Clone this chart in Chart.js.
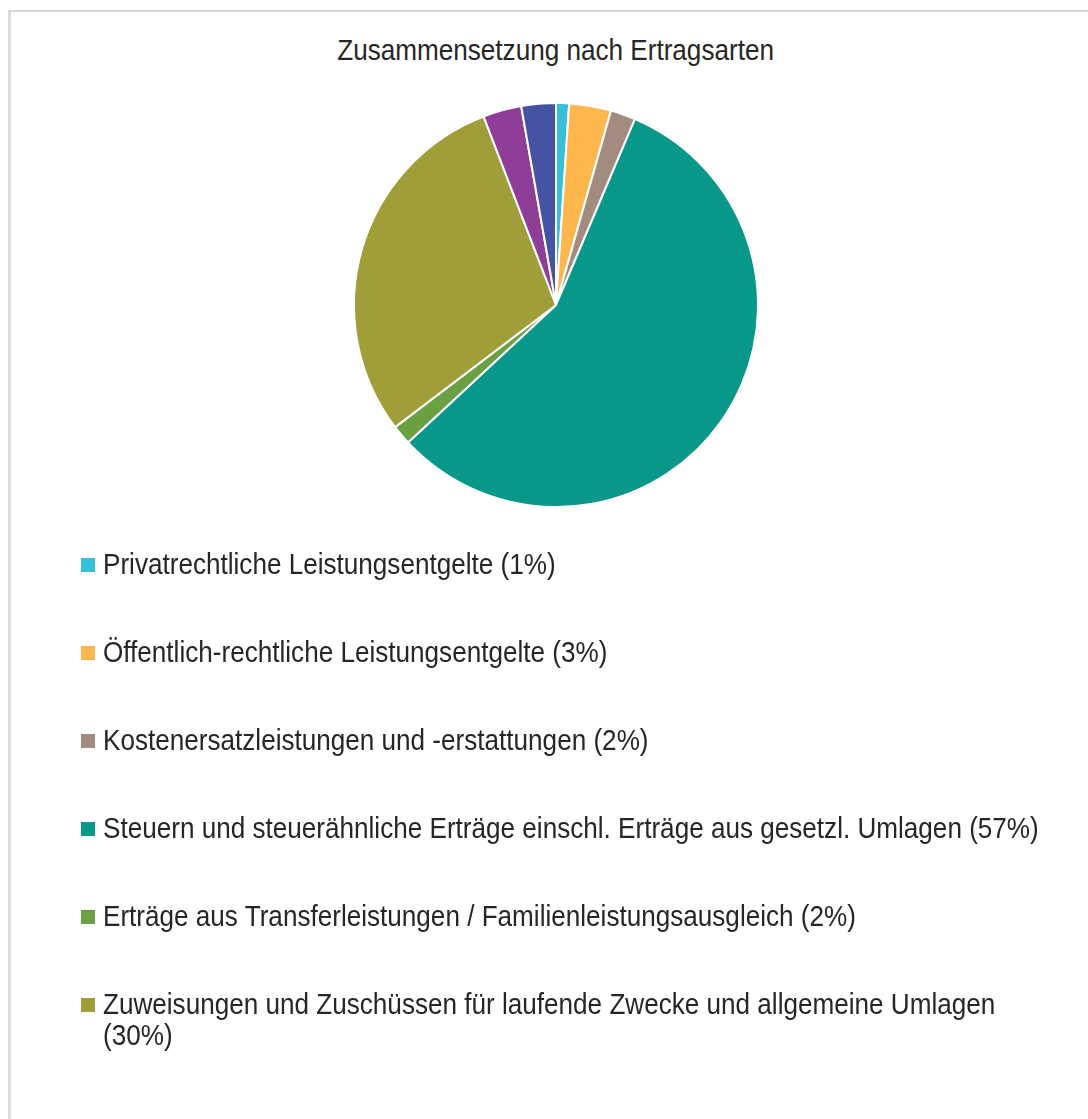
<!DOCTYPE html>
<html lang="de">
<head>
<meta charset="utf-8">
<script src="https://cdn.jsdelivr.net/npm/chart.js@4/dist/chart.umd.min.js"></script>
<style>
  html, body { margin: 0; padding: 0; background: #fff; width: 1088px; height: 1119px; overflow: hidden; }
  body { position: relative; font-family: "Liberation Sans", Arial, sans-serif; color: #262626; }
  #frame { position: absolute; left: 8px; top: 10px; width: 1200px; height: 1200px;
           border-top: 2px solid #d9d9d9; border-left: 3px solid #dcdcdc; box-sizing: border-box; }
  #chartWrap { position: absolute; left: 0; top: 0; width: 1112px; height: 610px; }
  #title { position: absolute; left: 0; top: 35px; width: 1112px; text-align: center;
           font-size: 29px; line-height: 31px; white-space: nowrap; }
  #title span { display: inline-block; transform: scaleX(0.9); transform-origin: center top; }
  #legendClip { position: absolute; left: 81px; top: 549px; width: 1000px; height: 545px; overflow: hidden; }
  #legend { margin: 0; padding: 0; list-style: none; }
  #legend li { position: relative; margin: 0 0 57px 0; padding: 0; }
  #legend .box { position: absolute; left: 0; top: 9px; width: 14px; height: 14px; }
  #legend .txt { display: block; margin-left: 22px; width: 1062px; font-size: 29px; line-height: 31px;
                 transform: scaleX(0.9); transform-origin: left top; }
</style>
</head>
<body>
<div id="frame"></div>
<div id="title"><span></span></div>
<div id="chartWrap"><canvas id="c"></canvas></div>
<div id="legendClip"><ul id="legend"></ul></div>
<script>
const chartTitle = "Zusammensetzung nach Ertragsarten";
const categories = [
  "Privatrechtliche Leistungsentgelte (1%)",
  "Öffentlich-rechtliche Leistungsentgelte (3%)",
  "Kostenersatzleistungen und -erstattungen (2%)",
  "Steuern und steuerähnliche Erträge einschl. Erträge aus gesetzl. Umlagen (57%)",
  "Erträge aus Transferleistungen / Familienleistungsausgleich (2%)",
  "Zuweisungen und Zuschüssen für laufende Zwecke und allgemeine Umlagen (30%)",
  "Sonstige ordentliche Erträge (3%)",
  "Finanzerträge (3%)"
];
const shares = [1.04, 3.35, 2.0, 56.7, 1.58, 29.5, 3.08, 2.76];
const colors = ["#36C1D8", "#FDB74D", "#A38B80", "#08988A", "#6A9F42", "#A09E38", "#8E3E96", "#4653A2"];

document.querySelector('#title span').textContent = chartTitle;

const htmlLegend = {
  id: 'htmlLegend',
  afterUpdate(chart) {
    const ul = document.getElementById('legend');
    while (ul.firstChild) ul.removeChild(ul.firstChild);
    const items = chart.options.plugins.legend.labels.generateLabels(chart);
    items.forEach(item => {
      const li = document.createElement('li');
      const box = document.createElement('span');
      box.className = 'box';
      box.style.background = item.fillStyle;
      const txt = document.createElement('span');
      txt.className = 'txt';
      txt.textContent = item.text;
      li.appendChild(box);
      li.appendChild(txt);
      ul.appendChild(li);
    });
  }
};

new Chart(document.getElementById('c'), {
  type: 'pie',
  data: {
    labels: categories,
    datasets: [{
      data: shares,
      backgroundColor: colors,
      borderColor: '#ffffff',
      borderWidth: 2
    }]
  },
  options: {
    responsive: true,
    maintainAspectRatio: false,
    animation: false,
    layout: { padding: { top: 102, bottom: 102, left: 0, right: 0 } },
    plugins: {
      legend: { display: false },
      title: { display: false },
      tooltip: { enabled: false }
    }
  },
  plugins: [htmlLegend]
});
</script>
</body>
</html>
